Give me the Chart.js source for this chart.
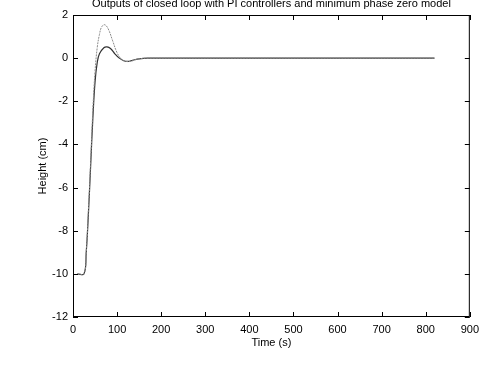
<!DOCTYPE html>
<html lang="en">
<head>
  <meta charset="UTF-8" />
  <title>Closed loop outputs</title>
  <script src="https://cdn.jsdelivr.net/npm/chart.js"></script>
  <style>
    html, body { margin: 0; padding: 0; background: #fff; }
    #wrap { width: 485px; height: 372px; }
  </style>
</head>
<body>
  <div id="wrap"><canvas id="chart"></canvas></div>
  <script>
    const TITLE = "Outputs of closed loop with PI controllers and minimum phase zero model";
    const timeUpper = [10, 25, 30, 35, 40, 45, 50, 55, 60, 65, 72, 80, 90, 100, 110, 120, 130, 140, 150, 170, 820];
    const heightUpper = [-10, -10, -9, -7, -4.8, -2.4, -0.6, 0.5, 1.1, 1.45, 1.55, 1.35, 0.8, 0.25, -0.05, -0.15, -0.15, -0.08, -0.03, 0, 0];
    const timeLower = [10, 25, 30, 35, 40, 45, 50, 55, 60, 70, 77, 85, 95, 105, 115, 125, 135, 150, 170, 820];
    const heightLower = [-10, -10, -9, -7.2, -5, -2.8, -1.1, -0.2, 0.2, 0.48, 0.52, 0.45, 0.2, 0, -0.12, -0.15, -0.1, -0.03, 0, 0];
    const xTicks = [0, 100, 200, 300, 400, 500, 600, 700, 800, 900];
    const yTicks = [-12, -10, -8, -6, -4, -2, 0, 2];

    const FONT = "'Liberation Sans', Arial, sans-serif";

    function pts(xs, ys) {
      return xs.map((x, i) => ({ x, y: ys[i] }));
    }

    // MATLAB style box with inward ticks plus title
    const matlabFrame = {
      id: 'matlabFrame',
      afterDraw(chart) {
        const { ctx, chartArea: a, scales } = chart;
        ctx.save();
        ctx.strokeStyle = '#000';
        ctx.lineWidth = 1;
        ctx.strokeRect(a.left + 0.5, a.top + 0.5, a.right - a.left - 1, a.bottom - a.top - 1);
        ctx.beginPath();
        xTicks.forEach(v => {
          const px = Math.round(scales.x.getPixelForValue(v)) + 0.5;
          ctx.moveTo(px, a.bottom); ctx.lineTo(px, a.bottom - 5);
          ctx.moveTo(px, a.top); ctx.lineTo(px, a.top + 5);
        });
        yTicks.forEach(v => {
          const py = Math.round(scales.y.getPixelForValue(v)) + 0.5;
          ctx.moveTo(a.left, py); ctx.lineTo(a.left + 5, py);
          ctx.moveTo(a.right, py); ctx.lineTo(a.right - 5, py);
        });
        ctx.stroke();
        ctx.fillStyle = '#000';
        ctx.font = '11px ' + FONT;
        ctx.textAlign = 'center';
        ctx.textBaseline = 'middle';
        ctx.fillText(TITLE, (a.left + a.right) / 2, 4);
        ctx.restore();
      }
    };

    new Chart(document.getElementById('chart'), {
      type: 'line',
      data: {
        datasets: [
          {
            data: pts(timeUpper, heightUpper),
            borderColor: '#8a8a8a',
            borderWidth: 1,
            borderDash: [2, 1],
            pointRadius: 0,
            tension: 0.4,
            fill: false
          },
          {
            data: pts(timeLower, heightLower),
            borderColor: '#333',
            borderWidth: 1.2,
            pointRadius: 0,
            tension: 0.4,
            fill: false
          }
        ]
      },
      options: {
        responsive: true,
        maintainAspectRatio: false,
        animation: false,
        layout: { padding: { top: 15, right: 14, left: 36, bottom: 22 } },
        plugins: {
          legend: { display: false },
          tooltip: { enabled: false }
        },
        scales: {
          x: {
            type: 'linear',
            min: 0,
            max: 900,
            afterBuildTicks: s => { s.ticks = xTicks.map(v => ({ value: v })); },
            afterFit: s => { s.height = 33; },
            grid: { display: false, drawTicks: false },
            border: { display: false },
            ticks: { color: '#000', padding: 6, maxRotation: 0, font: { family: FONT, size: 11 } },
            title: { display: true, text: 'Time (s)', color: '#000', padding: { top: 2, bottom: 0 }, font: { family: FONT, size: 11 } }
          },
          y: {
            min: -12,
            max: 2,
            afterBuildTicks: s => { s.ticks = yTicks.map(v => ({ value: v })); },
            afterFit: s => { s.width = 37; },
            grid: { display: false, drawTicks: false },
            border: { display: false },
            ticks: { color: '#000', padding: 5, font: { family: FONT, size: 11 } },
            title: { display: true, text: 'Height (cm)', color: '#000', padding: { top: 0, bottom: 0 }, font: { family: FONT, size: 11 } }
          }
        }
      },
      plugins: [matlabFrame]
    });
  </script>
</body>
</html>
